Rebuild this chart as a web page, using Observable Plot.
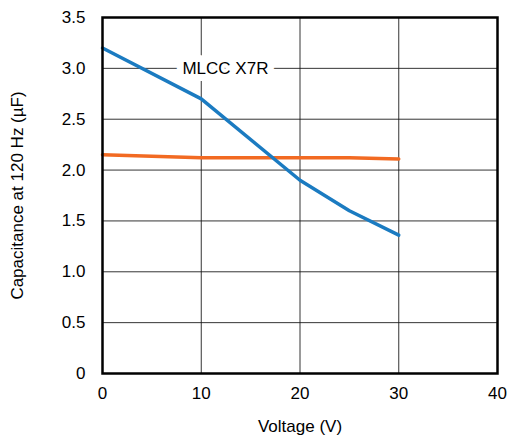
<!DOCTYPE html>
<html>
<head>
<meta charset="utf-8">
<script src="https://cdn.jsdelivr.net/npm/d3@7"></script>
<script src="https://cdn.jsdelivr.net/npm/@observablehq/plot@0.6"></script>
<style>
  html, body { margin: 0; padding: 0; background: #fff; }
  svg { display: block; }
</style>
</head>
<body>
<div id="chart"></div>
<script>
const voltage = [0, 10, 20, 25, 30];
const mlccX7R = [3.2, 2.7, 1.9, 1.6, 1.36];
const otherCap = [2.15, 2.12, 2.12, 2.12, 2.11];
const xTicks = [0, 10, 20, 30, 40];
const yTicks = [0, 0.5, 1.0, 1.5, 2.0, 2.5, 3.0, 3.5];
const labelText = ["MLCC X7R"];
const labelX = [12.45];
const labelY = [3.0];

const blue = voltage.map((v, i) => ({x: v, y: mlccX7R[i]}));
const orange = voltage.map((v, i) => ({x: v, y: otherCap[i]}));
const labels = labelText.map((t, i) => ({text: t, x: labelX[i], y: labelY[i]}));
const yFmt = d => d === 0 ? "0" : d.toFixed(1);

const chart = Plot.plot({
  width: 507,
  height: 436,
  marginLeft: 102,
  marginRight: 10,
  marginTop: 17,
  marginBottom: 63,
  style: {fontFamily: "Liberation Sans, Arial, sans-serif", fontSize: "17px", color: "#000", background: "#fff"},
  x: {domain: [0, 40], ticks: xTicks, label: "Voltage (V)"},
  y: {domain: [0, 3.5], ticks: yTicks, label: "Capacitance at 120 Hz (µF)"},
  marks: [
    Plot.gridX(xTicks, {stroke: "#111", strokeOpacity: 0.85, strokeWidth: 1}),
    Plot.gridY(yTicks, {stroke: "#111", strokeOpacity: 0.85, strokeWidth: 1}),
    Plot.text(labels, {x: "x", y: "y", text: "text", fill: "#000", stroke: "white", strokeWidth: 14, fontSize: 17}),
    Plot.line(orange, {x: "x", y: "y", stroke: "#f26a22", strokeWidth: 3.5}),
    Plot.line(blue, {x: "x", y: "y", stroke: "#1b7bc1", strokeWidth: 3.5}),
    Plot.frame({stroke: "#000", strokeWidth: 2.5}),
    Plot.axisX({ticks: xTicks, tickSize: 0, tickPadding: 13, fontSize: 17, label: "Voltage (V)", labelAnchor: "center", labelOffset: 58, labelArrow: "none"}),
    Plot.axisY({ticks: yTicks, tickSize: 0, tickPadding: 17, fontSize: 17, tickFormat: yFmt, label: "Capacitance at 120 Hz (µF)", labelAnchor: "center", labelOffset: 92, labelArrow: "none"})
  ]
});
document.getElementById("chart").appendChild(chart);
</script>
</body>
</html>
